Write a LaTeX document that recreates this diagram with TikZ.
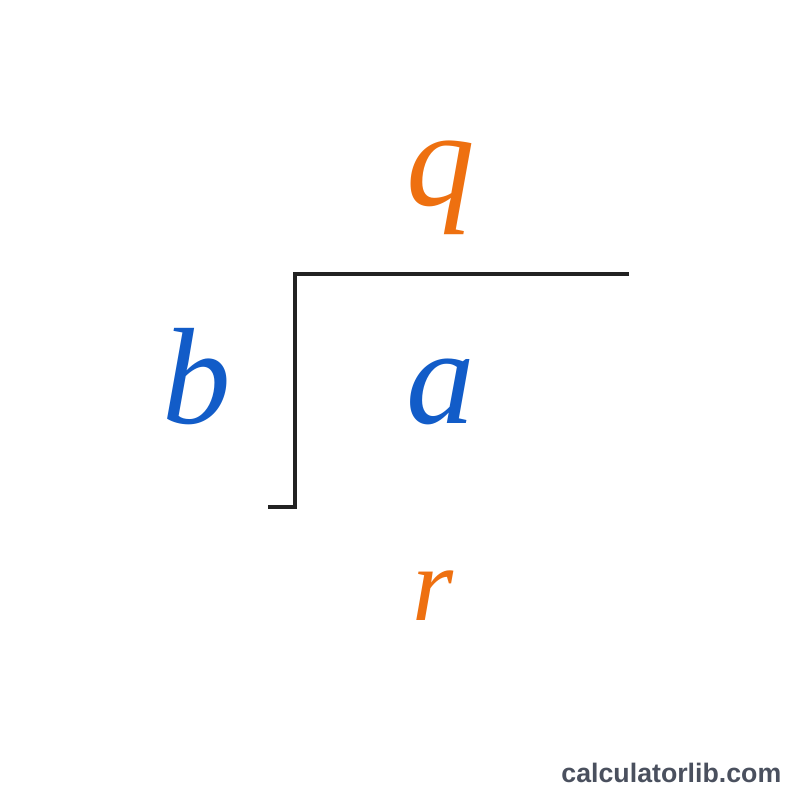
\documentclass[tikz,border=0pt]{standalone}
\usepackage{fontspec}
\setmainfont{Liberation Serif}
\newfontfamily\wmfont{Liberation Sans}
\definecolor{qorange}{RGB}{238,112,16}
\definecolor{ablue}{RGB}{18,92,200}
\definecolor{lineblack}{RGB}{34,34,34}
\definecolor{wmgray}{RGB}{74,80,94}
\begin{document}
\begin{tikzpicture}[x=0.01cm,y=-0.01cm,
  letter/.style={inner sep=0pt,anchor=base,font=\fontsize{39}{44}\selectfont\itshape},
  smallletter/.style={inner sep=0pt,anchor=base,font=\fontsize{30}{34}\selectfont\itshape},
  barline/.style={draw=lineblack,line width=1.1pt}]
\fill[white] (0,0) rectangle (800,800);
\useasboundingbox (0,0) rectangle (800,800);
\node[letter,text=qorange] (q) at (441,205) {q};
\node[letter,text=ablue] (b) at (197,423) {b};
\node[letter,text=ablue] (a) at (441,423) {a};
\node[smallletter,text=qorange] (r) at (433,620) {r};
\coordinate (tr) at (629,274);
\coordinate (tl) at (295,274);
\coordinate (bl) at (295,507);
\coordinate (bt) at (268,507);
\draw[barline] (tr) -- (tl) -- (bl) -- (bt);
\node[inner sep=0pt,anchor=base east,text=wmgray,font=\wmfont\bfseries\fontsize{7.6}{9}\selectfont] (wm) at (782,782) {calculatorlib.com};
\end{tikzpicture}
\end{document}
